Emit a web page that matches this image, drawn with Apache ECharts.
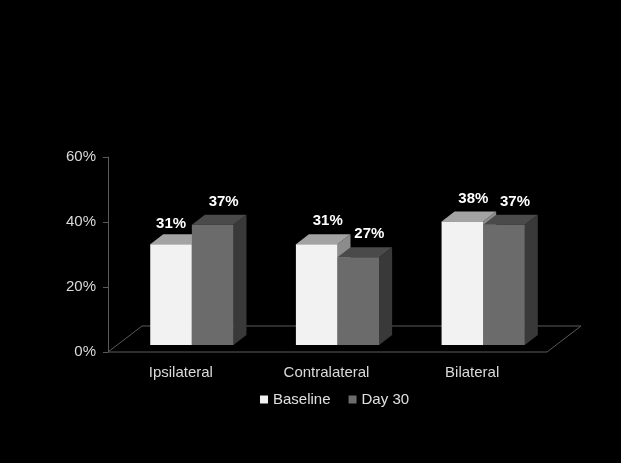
<!DOCTYPE html>
<html>
<head>
<meta charset="utf-8">
<script src="https://cdn.jsdelivr.net/npm/echarts@6/dist/echarts.min.js"></script>
<style>
  html, body { margin: 0; padding: 0; background: #000; }
  #chart { width: 621px; height: 463px; }
</style>
</head>
<body>
<div id="chart"></div>
<script>
const categories = ['Ipsilateral', 'Contralateral', 'Bilateral']
const baseline = [31, 31, 38]
const day30 = [37, 27, 37]
const yTicks = [0, 20, 40, 60]

// 3d look
const depth = [13, -10]
const lift = 7
const faces = {
  Baseline: { front: '#f2f2f2', top: '#a3a3a3', side: '#8c8c8c' },
  'Day 30': { front: '#6b6b6b', top: '#4a4a4a', side: '#393939' }
}

function box(slot) {
  return function (params, api) {
    const i = api.value(0)
    const v = api.value(1)
    const c = api.coord([i, 0])
    const t = api.coord([i, v])
    const band = api.size([1, 0])[0]
    const bw = band * 0.2857
    const x0 = c[0] - band * 0.21 + slot * bw
    const x1 = x0 + bw
    const yb = c[1] - lift
    const yt = t[1] - lift
    const [dx, dy] = depth
    const f = faces[params.seriesName]
    // keep the front label clear of a taller neighbour
    const blocked = slot === 0 && day30[i] > v
    return {
      type: 'group',
      children: [
        { type: 'polygon', shape: { points: [[x1, yb], [x1 + dx, yb + dy], [x1 + dx, yt + dy], [x1, yt]] }, style: { fill: f.side } },
        { type: 'polygon', shape: { points: [[x0, yt], [x0 + dx, yt + dy], [x1 + dx, yt + dy], [x1, yt]] }, style: { fill: f.top } },
        { type: 'rect', shape: { x: x0, y: yt, width: bw, height: yb - yt }, style: { fill: f.front } },
        {
          type: 'text',
          x: x0 + bw / 2 + (blocked ? 0 : 11),
          y: yt + dy - (blocked ? 10 : 13),
          style: {
            text: v + '%',
            fill: '#ffffff',
            font: 'bold 15px "Liberation Sans", Arial, sans-serif',
            align: 'center',
            verticalAlign: 'middle'
          }
        }
      ]
    }
  }
}

function floor(params) {
  const r = params.coordSys
  const yb = r.y + r.height
  const x0 = r.x
  const x1 = r.x + r.width + 2
  const back = [34, -26]
  return {
    type: 'polygon',
    shape: { points: [[x0, yb], [x1, yb], [x1 + back[0], yb + back[1]], [x0 + back[0], yb + back[1]]] },
    style: { fill: 'none', stroke: '#5a5a5a', lineWidth: 1 }
  }
}

const chart = echarts.init(document.getElementById('chart'))
chart.setOption({
  backgroundColor: '#000',
  animation: false,
  textStyle: { fontFamily: '"Liberation Sans", Arial, sans-serif' },
  grid: { left: 108, right: 76, top: 157, bottom: 111 },
  legend: {
    data: ['Baseline', 'Day 30'],
    left: 255,
    top: 387,
    icon: 'rect',
    itemWidth: 8,
    itemHeight: 8,
    itemGap: 18,
    textStyle: { color: '#e0e0e0', fontSize: 15 }
  },
  xAxis: {
    type: 'category',
    data: categories,
    axisLine: { show: false },
    axisTick: { show: false },
    axisLabel: { color: '#dadada', fontSize: 15, margin: 13 }
  },
  yAxis: {
    type: 'value',
    min: yTicks[0],
    max: yTicks[yTicks.length - 1],
    interval: 20,
    axisLine: { show: true, lineStyle: { color: '#5a5a5a' } },
    axisTick: { show: true, length: 5, lineStyle: { color: '#5a5a5a' } },
    axisLabel: { color: '#dadada', fontSize: 15, margin: 12, formatter: '{value}%' },
    splitLine: { show: false }
  },
  series: [
    { name: 'floor', type: 'custom', silent: true, z: 1, data: [[0, 0]], renderItem: floor },
    {
      name: 'Baseline', type: 'custom', z: 2, itemStyle: { color: '#f2f2f2' },
      data: baseline.map((v, i) => [i, v]), renderItem: box(0)
    },
    {
      name: 'Day 30', type: 'custom', z: 3, itemStyle: { color: '#6b6b6b' },
      data: day30.map((v, i) => [i, v]), renderItem: box(1)
    }
  ]
})
</script>
</body>
</html>
